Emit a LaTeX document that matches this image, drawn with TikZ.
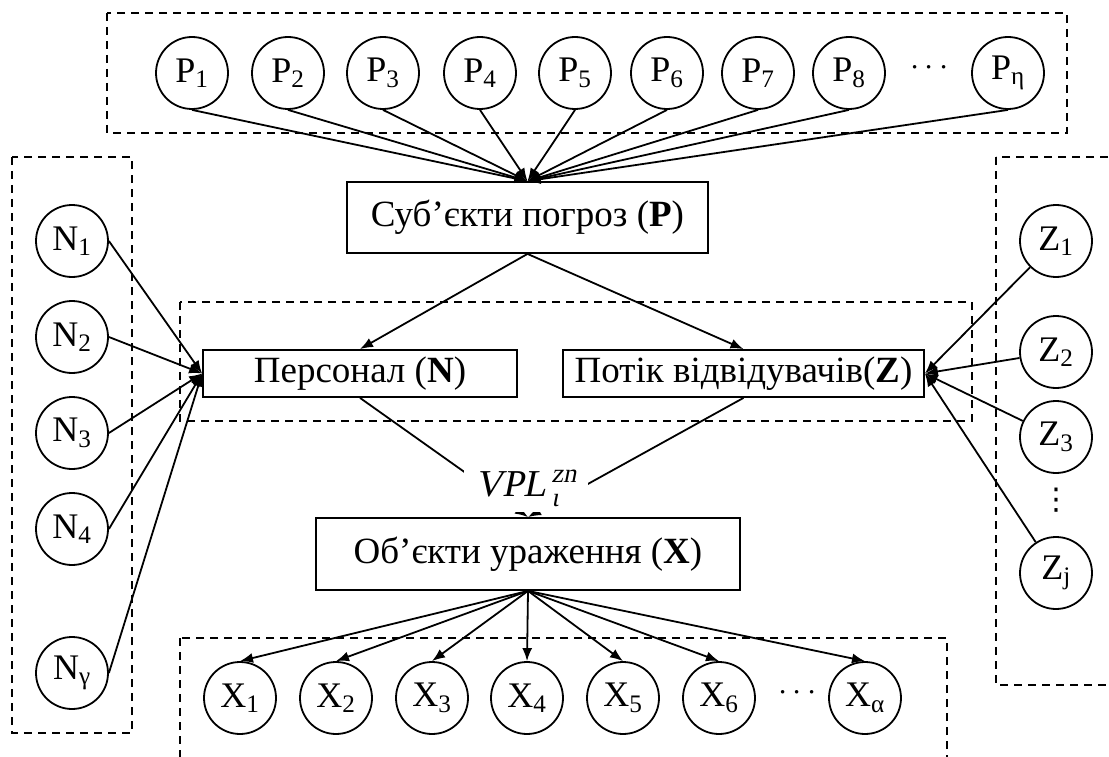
\RequirePackage{fix-cm}
\documentclass[tikz,border=0pt]{standalone}
\usepackage{amsmath}
\usepackage{fontspec}
\setmainfont{Liberation Serif}
\newfontfamily\slfont[FakeSlant=0.2]{Liberation Serif}
\newfontfamily\symfont{DejaVu Sans}
\usetikzlibrary{arrows.meta}

\begin{document}
\begin{tikzpicture}[x=1pt, y=-1pt, >={Latex[length=13pt,width=10pt]}, line width=1.8pt,
  elem/.style={draw, circle, minimum size=72pt, inner sep=0pt, font=\fontsize{36}{40}\selectfont},
  group/.style={draw, rectangle, inner sep=0pt, font=\fontsize{37}{40}\selectfont},
  zone/.style={draw, dash pattern=on 8pt off 6pt}]
\useasboundingbox (0,0) rectangle (1109,757);
% dashed zones
\draw[zone] (107,13) rectangle (1067,133);
\draw[zone] (12,157) rectangle (132,733);
\draw[zone] (180,302) rectangle (972,421);
\draw[zone] (996,157) rectangle (1140,685);
\draw[zone] (180,638) rectangle (947,800);
% threat subjects
\node[elem] (p1) at (192,73) {P\textsubscript{1}};
\node[elem] (p2) at (288,73) {P\textsubscript{2}};
\node[elem] (p3) at (383,73) {P\textsubscript{3}};
\node[elem] (p4) at (480,73) {P\textsubscript{4}};
\node[elem] (p5) at (575,73) {P\textsubscript{5}};
\node[elem] (p6) at (667,73) {P\textsubscript{6}};
\node[elem] (p7) at (758,73) {P\textsubscript{7}};
\node[elem] (p8) at (849,73) {P\textsubscript{8}};
\node[font=\fontsize{33}{36}\selectfont] (pdots) at (932,68) {$\cdots$};
\node[elem] (pe) at (1008,73) {P\textsubscript{η}};
% staff
\node[elem] (n1) at (72,241) {N\textsubscript{1}};
\node[elem] (n2) at (72,337) {N\textsubscript{2}};
\node[elem] (n3) at (72,433) {N\textsubscript{3}};
\node[elem] (n4) at (72,529) {N\textsubscript{4}};
\node[elem] (ng) at (72,673) {N\textsubscript{γ}};
% visitors
\node[elem] (z1) at (1056,241) {Z\textsubscript{1}};
\node[elem] (z2) at (1056,352) {Z\textsubscript{2}};
\node[elem] (z3) at (1056,437) {Z\textsubscript{3}};
\node[inner sep=0pt, font=\symfont\fontsize{30}{34}\selectfont] (zdots) at (1056,500) {⋮};
\node[elem] (zj) at (1056,573) {Z\textsubscript{j}};
% targets
\node[elem] (x1) at (240,698) {X\textsubscript{1}};
\node[elem] (x2) at (336,698) {X\textsubscript{2}};
\node[elem] (x3) at (432,698) {X\textsubscript{3}};
\node[elem] (x4) at (527,698) {X\textsubscript{4}};
\node[elem] (x5) at (623,698) {X\textsubscript{5}};
\node[elem] (x6) at (719,698) {X\textsubscript{6}};
\node[font=\fontsize{33}{36}\selectfont] (xdots) at (800,693) {$\cdots$};
\node[elem] (xa) at (865,698) {X\textsubscript{α}};
% groups
\node[group, minimum width=361pt, minimum height=71pt] (subj) at (527.5,217.5) {Суб’єкти погроз (\textbf{P})};
\node[group, minimum width=314pt, minimum height=47pt] (pers) at (360,373.5) {Персонал (\textbf{N})};
\node[group, minimum width=361pt, minimum height=47pt] (flow) at (743.5,373.5) {Потік відвідувачів(\textbf{Z})};
\node[group, minimum width=424pt, minimum height=72pt] (obj) at (528,554) {Об’єкти ураження (\textbf{X})};
% connectors
\foreach \p in {p1,p2,p3,p4,p5,p6,p7,p8,pe} \draw[->] (\p.south) -- (subj.north);
\foreach \n in {n1,n2,n3,n4,ng} \draw[->] (\n.east) -- (pers.west);
\foreach \z in {z1,z2,z3,zj} \draw[->] (\z) -- (flow.east);
\foreach \x in {x1,x2,x3,x4,x5,x6,xa} \draw[->] (obj.south) -- (\x.north);
\draw[->] (subj.south) -- (pers.north);
\draw[->] (subj.south) -- (flow.north);
\draw[->] (pers.south) -- (obj.north);
\draw[->] (flow.south) -- (obj.north);
\node[fill=white, inner sep=0pt, minimum width=124pt, minimum height=48pt, font=\fontsize{38}{42}\selectfont] (vpl) at (526,488) {$\text{\slfont VPL}^{\,\text{\slfont zn}}_{\,\text{\slfont ι}}$};
\end{tikzpicture}
\end{document}
